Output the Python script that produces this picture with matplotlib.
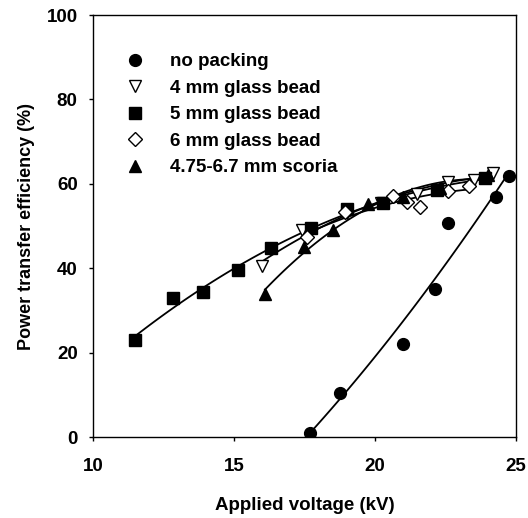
import numpy as np
import matplotlib
matplotlib.use("Agg")
import matplotlib.pyplot as plt

plt.rcParams["font.family"] = ["Liberation Sans", "DejaVu Sans"]
plt.rcParams["font.weight"] = "bold"

# ===== data =====
no_pack_x = [17.7, 18.75, 21.0, 22.15, 22.6, 24.3, 24.75]
no_pack_y = [1.0, 10.5, 22.0, 35.0, 50.7, 56.8, 61.8]

bead4_x = [16.0, 17.4, 19.0, 20.2, 21.5, 22.6, 23.5, 24.2]
bead4_y = [40.5, 49.0, 53.0, 55.5, 57.5, 60.5, 61.0, 62.5]

bead5_x = [11.5, 12.85, 13.9, 15.15, 16.3, 17.75, 19.0, 20.3, 22.2, 23.9]
bead5_y = [23.0, 33.0, 34.5, 39.5, 44.8, 49.5, 54.0, 55.5, 58.5, 61.5]

bead6_x = [17.6, 18.95, 20.65, 21.15, 21.6, 22.6, 23.35]
bead6_y = [47.5, 53.3, 57.2, 55.7, 54.5, 58.2, 59.5]

scoria_x = [16.1, 17.5, 18.5, 19.75, 21.0, 22.3, 24.0]
scoria_y = [34.0, 45.0, 49.0, 55.3, 57.0, 59.0, 62.0]

series = [
    ("no packing", no_pack_x, no_pack_y, dict(marker="o", mfc="black")),
    ("4 mm glass bead", bead4_x, bead4_y, dict(marker="v", mfc="white")),
    ("5 mm glass bead", bead5_x, bead5_y, dict(marker="s", mfc="black")),
    ("6 mm glass bead", bead6_x, bead6_y, dict(marker="D", mfc="white", ms=7)),
    ("4.75-6.7 mm scoria", scoria_x, scoria_y, dict(marker="^", mfc="black")),
]

fig = plt.figure(figsize=(5.28, 5.18), dpi=100)
ax = fig.add_axes([0.176, 0.156, 0.801, 0.815])

for label, xs, ys, style in series:
    xs = np.array(xs)
    ys = np.array(ys)
    # 2nd order trend line like the original
    coef = np.polyfit(xs, ys, 2)
    xf = np.linspace(xs.min(), xs.max(), 100)
    ax.plot(xf, np.polyval(coef, xf), color="black", lw=1.3, zorder=2)
    kw = dict(ms=8.5, mec="black", mew=1.0, ls="none", color="black")
    kw.update(style)
    ax.plot(xs, ys, label=label, zorder=3, **kw)

ax.set_xlim(10, 25)
ax.set_ylim(0, 100)
ax.set_xticks([10, 15, 20, 25])
ax.set_yticks([0, 20, 40, 60, 80, 100])
ax.tick_params(direction="out", length=3, labelsize=13.5, width=1)
ax.tick_params(axis="x", pad=12)
ax.tick_params(axis="y", pad=8)
ax.set_xlabel("Applied voltage (kV)", fontsize=13.5, fontweight="bold", labelpad=16)
ax.set_ylabel("Power transfer efficiency (%)", fontsize=13, fontweight="bold", labelpad=8)
for s in ax.spines.values():
    s.set_linewidth(1.0)

ax.legend(loc="upper left", bbox_to_anchor=(0.073, 0.91), frameon=False,
          borderaxespad=0, borderpad=0,
          fontsize=13.5, handletextpad=1.25, labelspacing=0.5, handlelength=1.2)

plt.savefig("out.png", dpi=100)
